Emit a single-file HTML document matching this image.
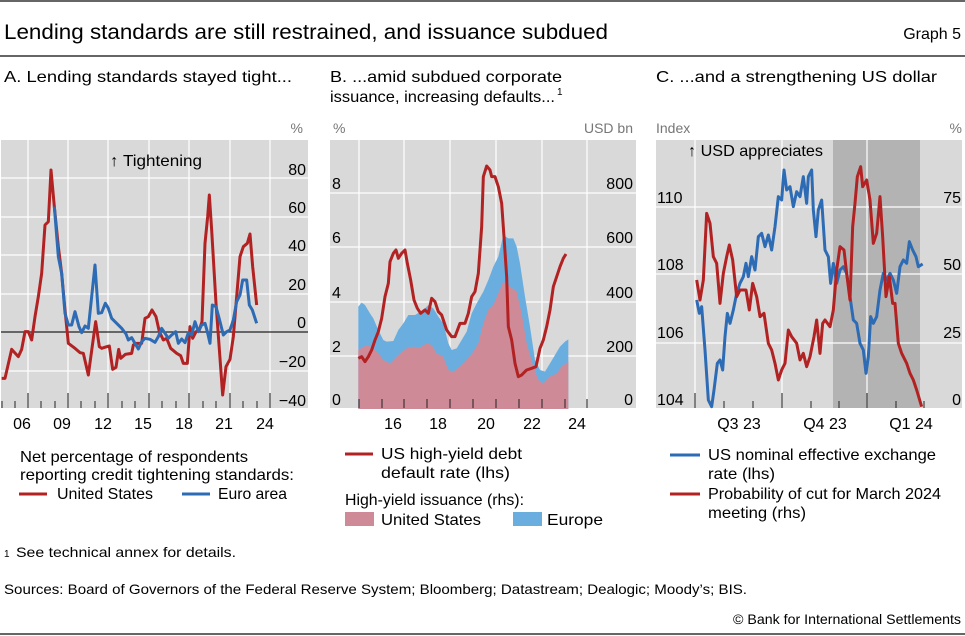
<!DOCTYPE html>
<html><head><meta charset="utf-8"><style>
html,body{margin:0;padding:0;background:#fff}
svg{display:block}
text{font-family:"Liberation Sans",sans-serif;fill:#000}
.g{fill:#777}
</style></head><body>
<svg width="965" height="636" viewBox="0 0 965 636" xmlns="http://www.w3.org/2000/svg">
<line x1="0" y1="1" x2="965" y2="1" stroke="#333" stroke-width="1.5"/>
<line x1="0" y1="56" x2="965" y2="56" stroke="#333" stroke-width="1.5"/>
<line x1="0" y1="634" x2="965" y2="634" stroke="#333" stroke-width="1.5"/>
<text x="4" y="39" font-size="21" textLength="604" lengthAdjust="spacingAndGlyphs">Lending standards are still restrained, and issuance subdued</text>
<text x="961" y="39" font-size="16" text-anchor="end">Graph 5</text>
<text x="4" y="82" font-size="16" textLength="288" lengthAdjust="spacingAndGlyphs">A. Lending standards stayed tight...</text>
<text x="330" y="82" font-size="16" textLength="232" lengthAdjust="spacingAndGlyphs">B. ...amid subdued corporate</text>
<text x="330" y="102" font-size="16" textLength="225" lengthAdjust="spacingAndGlyphs">issuance, increasing defaults...</text>
<text x="557" y="95" font-size="10">1</text>
<text x="656" y="82" font-size="16" textLength="281" lengthAdjust="spacingAndGlyphs">C. ...and a strengthening US dollar</text>

<!-- Panel A -->
<rect x="1" y="140" width="307" height="268" fill="#d9d9d9"/>
<g stroke="#fff" stroke-width="1.2">
<line x1="28" y1="140" x2="28" y2="408"/><line x1="68" y1="140" x2="68" y2="408"/><line x1="108" y1="140" x2="108" y2="408"/><line x1="149" y1="140" x2="149" y2="408"/><line x1="189" y1="140" x2="189" y2="408"/><line x1="230" y1="140" x2="230" y2="408"/><line x1="270" y1="140" x2="270" y2="408"/>
<line x1="1" y1="178" x2="308" y2="178"/><line x1="1" y1="217" x2="308" y2="217"/><line x1="1" y1="255" x2="308" y2="255"/><line x1="1" y1="294" x2="308" y2="294"/><line x1="1" y1="371" x2="308" y2="371"/>
</g>
<line x1="1" y1="332" x2="308" y2="332" stroke="#222" stroke-width="1.2"/>
<g stroke="#222" stroke-width="1">
<line x1="28" y1="393" x2="28" y2="408"/><line x1="68" y1="393" x2="68" y2="408"/><line x1="108" y1="393" x2="108" y2="408"/><line x1="149" y1="393" x2="149" y2="408"/><line x1="189" y1="393" x2="189" y2="408"/><line x1="230" y1="393" x2="230" y2="408"/><line x1="270" y1="393" x2="270" y2="408"/>
<line x1="2" y1="401" x2="2" y2="408"/><line x1="15" y1="401" x2="15" y2="408"/><line x1="41" y1="401" x2="41" y2="408"/><line x1="55" y1="401" x2="55" y2="408"/><line x1="81" y1="401" x2="81" y2="408"/><line x1="95" y1="401" x2="95" y2="408"/><line x1="122" y1="401" x2="122" y2="408"/><line x1="135" y1="401" x2="135" y2="408"/><line x1="162" y1="401" x2="162" y2="408"/><line x1="176" y1="401" x2="176" y2="408"/><line x1="203" y1="401" x2="203" y2="408"/><line x1="216" y1="401" x2="216" y2="408"/><line x1="243" y1="401" x2="243" y2="408"/><line x1="257" y1="401" x2="257" y2="408"/>
</g>
<g transform="translate(0,110) scale(0.33333)" fill="none" stroke-width="9" stroke-linejoin="round">
<polyline stroke="#b22222" points="5,805 15,805 35,718 55,740 65,718 75,665 85,665 95,690 105,620 115,560 125,490 135,345 145,335 153,180 163,290 175,410 185,490 195,600 205,700 225,715 240,728 250,730 265,795 278,700 287,635 298,710 305,715 320,710 328,708 338,778 348,772 356,718 362,745 376,733 395,730 400,705 410,700 425,700 435,625 445,620 456,600 468,620 478,665 490,690 500,685 512,715 530,730 542,737 550,760 562,760 570,650 578,685 588,665 598,660 606,635 615,400 623,320 628,255 635,360 648,580 660,745 668,855 678,770 690,748 700,680 710,560 720,440 730,410 742,400 750,372 758,470 770,585"/>
<polyline stroke="#2d6bb5" points="163,290 175,440 185,490 195,610 205,645 215,645 225,605 237,650 245,668 255,648 265,655 275,560 285,465 295,610 305,608 316,580 325,595 335,625 345,635 365,655 378,672 385,690 395,683 405,700 415,717 425,695 435,685 450,688 465,697 475,680 485,655 495,670 505,685 515,675 527,665 535,700 545,687 555,698 565,668 575,675 585,635 595,665 605,645 615,640 622,665 630,700 637,585 648,590 660,635 670,675 680,665 690,660 700,630 710,575 720,555 728,510 740,510 748,585 757,600 770,640"/>
</g>
<text x="110" y="166" font-size="16" textLength="92" lengthAdjust="spacingAndGlyphs">↑ Tightening</text>
<text x="303" y="133" font-size="14" class="g" text-anchor="end">%</text>
<g font-size="16" text-anchor="end">
<text x="306" y="175">80</text><text x="306" y="213">60</text><text x="306" y="251">40</text><text x="306" y="290">20</text><text x="306" y="328">0</text><text x="306" y="367">−20</text><text x="306" y="406">−40</text>
</g>
<g font-size="16" text-anchor="middle">
<text x="22" y="429">06</text><text x="62" y="429">09</text><text x="103" y="429">12</text><text x="143" y="429">15</text><text x="184" y="429">18</text><text x="224" y="429">21</text><text x="265" y="429">24</text>
</g>
<text x="20" y="462" font-size="16" textLength="228" lengthAdjust="spacingAndGlyphs">Net percentage of respondents</text>
<text x="20" y="480" font-size="16" textLength="274" lengthAdjust="spacingAndGlyphs">reporting credit tightening standards:</text>
<line x1="19" y1="494" x2="47" y2="494" stroke="#b22222" stroke-width="3"/>
<text x="57" y="499" font-size="16" textLength="96" lengthAdjust="spacingAndGlyphs">United States</text>
<line x1="182" y1="494" x2="210" y2="494" stroke="#2d6bb5" stroke-width="3"/>
<text x="218" y="499" font-size="16" textLength="69" lengthAdjust="spacingAndGlyphs">Euro area</text>

<!-- Panel B -->
<rect x="330" y="140" width="306" height="268" fill="#d9d9d9"/>
<g stroke="#fff" stroke-width="1.2">
<line x1="359" y1="140" x2="359" y2="408"/><line x1="404" y1="140" x2="404" y2="408"/><line x1="450" y1="140" x2="450" y2="408"/><line x1="496" y1="140" x2="496" y2="408"/><line x1="542" y1="140" x2="542" y2="408"/><line x1="587" y1="140" x2="587" y2="408"/>
<line x1="330" y1="193" x2="636" y2="193"/><line x1="330" y1="247" x2="636" y2="247"/><line x1="330" y1="302" x2="636" y2="302"/><line x1="330" y1="356" x2="636" y2="356"/>
</g>
<g transform="translate(320,110) scale(0.33333)" stroke-linejoin="round">
<polygon fill="#6aaee0" points="115,897 115,590 125,578 135,585 150,610 160,625 175,660 190,690 200,695 220,693 235,660 250,640 265,615 285,615 310,600 325,585 340,595 355,620 370,640 385,700 395,720 410,715 425,690 440,665 455,610 470,580 490,545 505,510 520,470 535,440 550,375 565,385 580,385 590,410 600,460 615,560 630,650 645,750 660,780 675,785 690,760 705,735 720,710 735,695 745,688 745,897"/>
<polygon fill="#cf8a97" points="115,897 115,720 130,710 145,705 160,715 175,730 190,750 210,760 225,745 240,730 260,715 280,710 300,712 320,700 335,705 350,730 370,740 385,780 400,785 420,770 440,750 460,725 475,700 490,640 505,600 520,585 535,550 550,515 570,530 590,545 605,610 620,700 640,770 655,810 670,820 690,800 710,790 725,770 745,755 745,897"/>
<polyline fill="none" stroke="#b22222" stroke-width="9" points="115,745 125,740 135,755 145,740 155,720 165,690 175,665 185,625 195,560 205,520 210,455 220,430 228,420 235,445 245,430 255,420 262,460 272,510 282,570 292,595 302,610 315,600 325,610 335,565 345,575 355,605 365,615 380,660 395,680 405,680 420,640 435,640 445,610 455,560 465,545 475,490 485,350 490,200 500,168 510,180 515,200 525,200 535,230 545,280 552,380 560,500 565,650 575,690 585,760 595,800 605,795 620,780 635,775 648,770 660,715 670,690 680,650 690,600 700,530 710,500 720,470 730,445 738,432"/>
</g>
<g stroke="#222" stroke-width="1">
<line x1="359" y1="399" x2="359" y2="408"/><line x1="382" y1="399" x2="382" y2="408"/><line x1="404" y1="399" x2="404" y2="408"/><line x1="427" y1="399" x2="427" y2="408"/><line x1="450" y1="399" x2="450" y2="408"/><line x1="473" y1="399" x2="473" y2="408"/><line x1="496" y1="399" x2="496" y2="408"/><line x1="519" y1="399" x2="519" y2="408"/><line x1="542" y1="399" x2="542" y2="408"/><line x1="565" y1="399" x2="565" y2="408"/><line x1="587" y1="399" x2="587" y2="408"/>
</g>
<text x="333" y="133" font-size="14" class="g">%</text>
<text x="633" y="133" font-size="14" class="g" text-anchor="end">USD bn</text>
<g font-size="16">
<text x="332" y="189">8</text><text x="332" y="243">6</text><text x="332" y="298">4</text><text x="332" y="352">2</text><text x="332" y="405">0</text>
</g>
<g font-size="16" text-anchor="end">
<text x="633" y="189">800</text><text x="633" y="243">600</text><text x="633" y="298">400</text><text x="633" y="352">200</text><text x="633" y="405">0</text>
</g>
<g font-size="16" text-anchor="middle">
<text x="393" y="429">16</text><text x="438" y="429">18</text><text x="486" y="429">20</text><text x="532" y="429">22</text><text x="577" y="429">24</text>
</g>
<line x1="345" y1="454" x2="373" y2="454" stroke="#b22222" stroke-width="3"/>
<text x="381" y="459" font-size="16" textLength="141" lengthAdjust="spacingAndGlyphs">US high-yield debt</text>
<text x="381" y="478" font-size="16" textLength="129" lengthAdjust="spacingAndGlyphs">default rate (lhs)</text>
<text x="345" y="505" font-size="16" textLength="179" lengthAdjust="spacingAndGlyphs">High-yield issuance (rhs):</text>
<rect x="345" y="512" width="29" height="14" fill="#cf8a97"/>
<text x="381" y="525" font-size="16" textLength="100" lengthAdjust="spacingAndGlyphs">United States</text>
<rect x="513" y="512" width="29" height="14" fill="#6aaee0"/>
<text x="547" y="525" font-size="16" textLength="56" lengthAdjust="spacingAndGlyphs">Europe</text>

<!-- Panel C -->
<rect x="656" y="140" width="306" height="268" fill="#d9d9d9"/>
<rect x="833" y="140" width="87" height="268" fill="#b3b3b3"/>
<g stroke="#fff" stroke-width="1.2">
<line x1="695" y1="140" x2="695" y2="408"/><line x1="782" y1="140" x2="782" y2="408"/><line x1="867" y1="140" x2="867" y2="408"/>
<line x1="656" y1="207" x2="962" y2="207"/><line x1="656" y1="274" x2="962" y2="274"/><line x1="656" y1="343" x2="962" y2="343"/>
</g>
<g stroke="#222" stroke-width="1">
<line x1="695" y1="393" x2="695" y2="408"/><line x1="782" y1="393" x2="782" y2="408"/><line x1="867" y1="393" x2="867" y2="408"/>
<line x1="724" y1="401" x2="724" y2="408"/><line x1="753" y1="401" x2="753" y2="408"/><line x1="811" y1="401" x2="811" y2="408"/><line x1="839" y1="401" x2="839" y2="408"/><line x1="896" y1="401" x2="896" y2="408"/><line x1="924" y1="401" x2="924" y2="408"/>
</g>
<g transform="translate(640,110) scale(0.33333)" fill="none" stroke-width="9" stroke-linejoin="round">
<polyline stroke="#2d6bb5" points="170,570 178,610 185,590 195,720 205,870 215,890 222,840 232,760 240,750 248,780 255,680 262,610 270,640 280,600 290,550 300,520 310,500 318,460 325,500 335,440 345,480 355,380 365,370 375,410 385,375 395,420 405,350 415,260 425,270 432,180 440,240 450,230 460,290 470,245 480,260 490,200 500,280 505,200 515,180 520,300 528,380 535,300 545,270 555,420 565,440 572,520 580,460 590,520 600,480 610,470 620,490 630,560 640,630 650,640 660,700 670,720 678,790 685,740 692,620 700,640 710,620 720,540 730,490 740,510 750,490 760,510 770,550 780,470 790,450 800,460 808,395 818,420 828,440 835,470 848,462"/>
<polyline stroke="#b22222" points="170,510 180,570 190,510 200,310 210,340 220,440 230,460 240,580 250,490 260,440 268,405 278,450 290,560 300,540 318,540 328,600 338,520 350,560 360,620 372,610 385,700 395,720 405,760 415,810 425,780 435,760 445,660 455,680 470,700 480,750 490,730 500,770 510,740 522,680 530,630 540,730 548,640 555,630 570,650 580,600 590,480 600,410 612,420 620,490 630,570 638,350 645,280 652,200 662,170 668,230 680,210 690,270 700,400 710,370 720,260 728,380 738,560 748,500 758,580 765,580 775,700 785,730 800,760 810,790 820,810 830,840 845,890"/>
</g>
<text x="688" y="156" font-size="16" textLength="135" lengthAdjust="spacingAndGlyphs">↑ USD appreciates</text>
<text x="656" y="133" font-size="14" class="g">Index</text>
<text x="962" y="133" font-size="14" class="g" text-anchor="end">%</text>
<g font-size="16">
<text x="657" y="203">110</text><text x="657" y="270">108</text><text x="657" y="338">106</text><text x="657" y="405">104</text>
</g>
<g font-size="16" text-anchor="end">
<text x="961" y="203">75</text><text x="961" y="270">50</text><text x="961" y="338">25</text><text x="961" y="405">0</text>
</g>
<g font-size="16" text-anchor="middle">
<text x="739" y="429">Q3 23</text><text x="825" y="429">Q4 23</text><text x="911" y="429">Q1 24</text>
</g>
<line x1="670" y1="455" x2="700" y2="455" stroke="#2d6bb5" stroke-width="3"/>
<text x="708" y="460" font-size="16" textLength="228" lengthAdjust="spacingAndGlyphs">US nominal effective exchange</text>
<text x="708" y="479" font-size="16" textLength="67" lengthAdjust="spacingAndGlyphs">rate (lhs)</text>
<line x1="670" y1="494" x2="700" y2="494" stroke="#b22222" stroke-width="3"/>
<text x="708" y="499" font-size="16" textLength="233" lengthAdjust="spacingAndGlyphs">Probability of cut for March 2024</text>
<text x="708" y="518" font-size="16" textLength="98" lengthAdjust="spacingAndGlyphs">meeting (rhs)</text>

<text x="4" y="557" font-size="10">1</text>
<text x="16" y="557" font-size="14" textLength="220" lengthAdjust="spacingAndGlyphs">See technical annex for details.</text>
<text x="4" y="594" font-size="14" textLength="743" lengthAdjust="spacingAndGlyphs">Sources: Board of Governors of the Federal Reserve System; Bloomberg; Datastream; Dealogic; Moody’s; BIS.</text>
<text x="733" y="624" font-size="14" textLength="228" lengthAdjust="spacingAndGlyphs">© Bank for International Settlements</text>
</svg>
</body></html>
